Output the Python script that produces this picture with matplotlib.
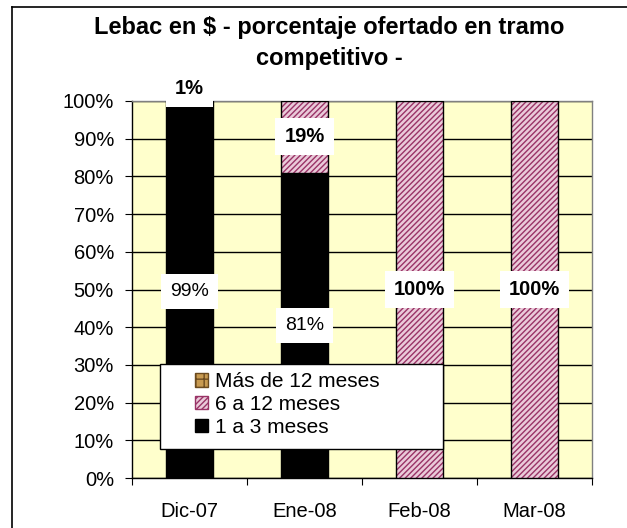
import matplotlib
matplotlib.use("Agg")
import matplotlib.pyplot as plt
from matplotlib.patches import Patch, Rectangle
from matplotlib.lines import Line2D
import numpy as np

plt.rcParams['font.family'] = ['Liberation Sans', 'DejaVu Sans']
plt.rcParams['hatch.linewidth'] = 1.0

categories = ["Dic-07", "Ene-08", "Feb-08", "Mar-08"]
s_1a3 = [99, 81, 0, 0]
s_6a12 = [1, 19, 100, 100]
s_mas12 = [0, 0, 0, 0]
series_names = ["Más de 12 meses", "6 a 12 meses", "1 a 3 meses"]
labels_1a3 = ["99%", "81%", "", ""]
labels_6a12 = ["1%", "19%", "100%", "100%"]

fig = plt.figure(figsize=(6.27, 5.28), dpi=100)
ax = fig.add_axes([132/627, 50/528, 460/627, 377/528])
ax.set_facecolor('#FFFFCC')

x = np.arange(len(categories))
w = 0.41
pink_edge = '#993366'
pink_face = '#EACAD9'

b1 = np.array(s_1a3, dtype=float)
b2 = np.array(s_6a12, dtype=float)

ax.bar(x, b1, w, color='black', edgecolor='black', linewidth=1, zorder=3)
ax.bar(x, b2, w, bottom=b1, color=pink_face, edgecolor=pink_edge, hatch='//////', linewidth=0, zorder=3)
ax.bar(x, b2, w, bottom=b1, fill=False, edgecolor='black', linewidth=1, zorder=4)

ax.set_xlim(-0.5, len(categories) - 0.5)
ax.set_ylim(0, 100)
ax.set_yticks(np.arange(0, 101, 10))
ax.set_yticklabels([f"{v}%" for v in range(0, 101, 10)], fontsize=14.5)
ax.yaxis.grid(True, color='black', linewidth=1, zorder=1)
ax.set_axisbelow(True)

ax.set_xticks(np.arange(-0.5, len(categories), 1.0))
ax.set_xticklabels([])
ax.set_xticks(x, minor=True)
ax.set_xticklabels(categories, minor=True, fontsize=14.5)
ax.tick_params(axis='x', which='minor', length=0, pad=17)
ax.tick_params(axis='x', which='major', length=5, direction='out', color='black')
ax.tick_params(axis='y', length=5, direction='out', pad=8)

for side in ['left', 'bottom']:
    ax.spines[side].set_color('black')
    ax.spines[side].set_linewidth(1)
for side in ['top', 'right']:
    ax.spines[side].set_color('#808080')
    ax.spines[side].set_linewidth(1)

box = dict(boxstyle='square,pad=0.45', facecolor='white', edgecolor='none')
for i in range(len(categories)):
    if labels_1a3[i]:
        ax.text(x[i], b1[i] / 2, labels_1a3[i], ha='center', va='center', fontsize=14,
                bbox=box, zorder=6)
    if labels_6a12[i]:
        yy = b1[i] + b2[i] / 2
        if b2[i] < 3:
            yy = 103.4
        ax.text(x[i], yy, labels_6a12[i], ha='center', va='center', fontsize=14.5,
                fontweight='bold', bbox=box, zorder=6, clip_on=False)

# legend frame
ax.add_patch(Rectangle((0.061, 0.077), 0.615, 0.225, transform=ax.transAxes,
                       facecolor='white', edgecolor='black', linewidth=1,
                       zorder=9, clip_on=False))
handles = [
    Patch(facecolor='#C89A50', edgecolor='#6B4A1E', hatch='++', linewidth=1),
    Patch(facecolor=pink_face, edgecolor=pink_edge, hatch='//////', linewidth=1),
    Patch(facecolor='black', edgecolor='black'),
]
leg = ax.legend(handles, series_names, loc='center left',
                bbox_to_anchor=(0.137, 0.195), fontsize=15, frameon=False,
                handlelength=0.6, handleheight=0.6, handletextpad=0.35,
                labelspacing=0.17, borderpad=0, borderaxespad=0)
leg.set_zorder(10)

fig.text(0.525, 1 - 43/528, "Lebac en $ - porcentaje ofertado en tramo\ncompetitivo -",
         ha='center', va='center', fontsize=17, fontweight='bold', linespacing=1.4)

fig.add_artist(Line2D([12/627, 12/627], [0, 1 - 7/528], transform=fig.transFigure,
                      color='black', linewidth=1.2))
fig.add_artist(Line2D([12/627, 1], [1 - 7/528, 1 - 7/528], transform=fig.transFigure,
                      color='black', linewidth=1.2))

fig.savefig("out.png", dpi=100)
